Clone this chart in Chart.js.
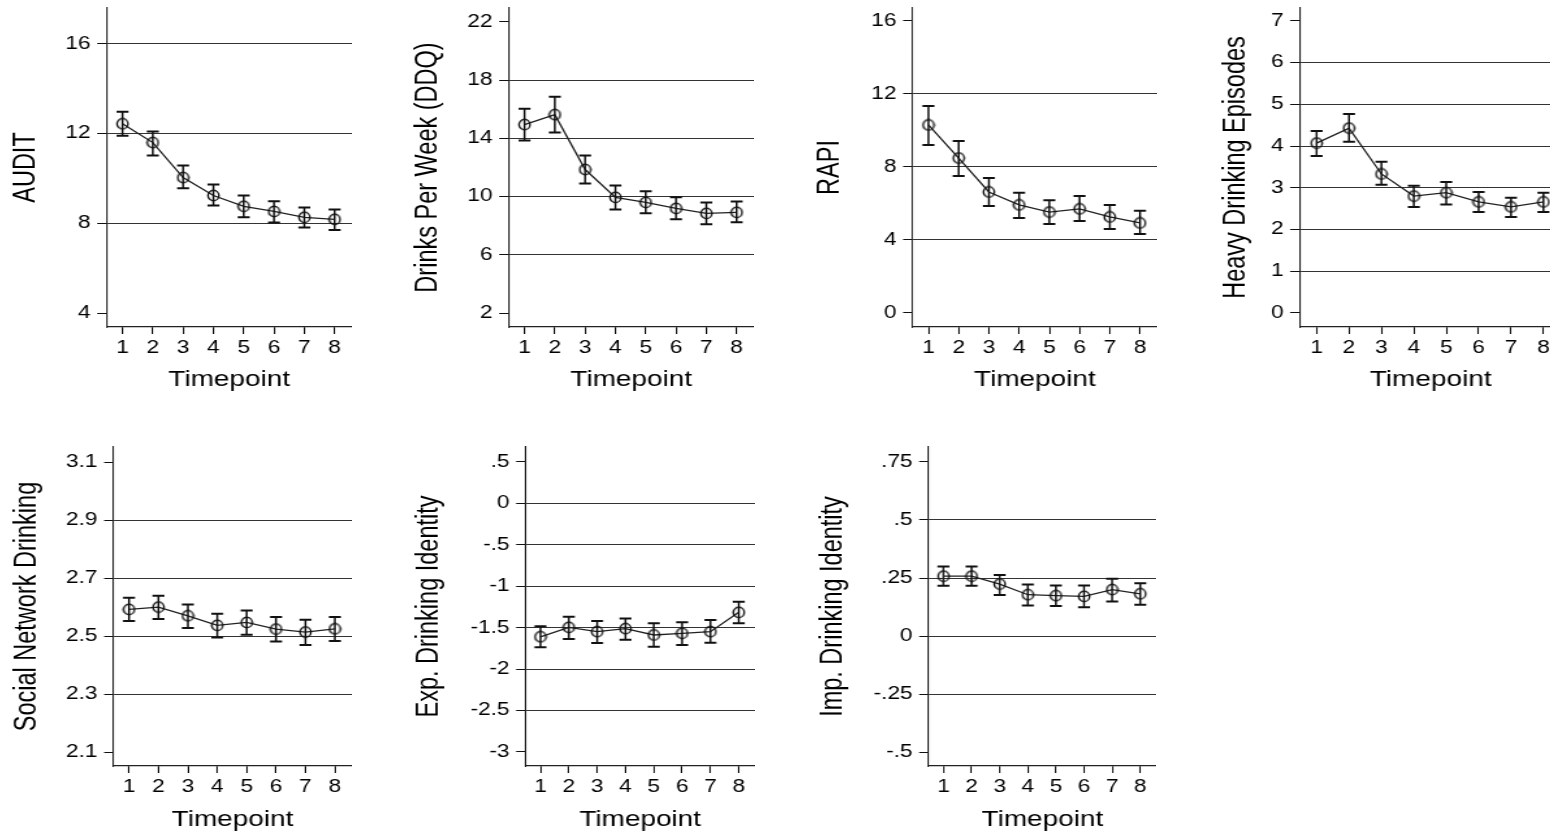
<!DOCTYPE html>
<html><head><meta charset="utf-8">
<script src="https://cdn.jsdelivr.net/npm/chart.js@4"></script>
<style>
html,body{margin:0;padding:0;background:#fff;overflow:hidden;width:1550px;height:834px;}
.panel{position:absolute;transform-origin:0 0;}
.panel canvas{display:block;}
</style></head><body>
<script>
// ---------------- data ----------------
const timepoints = [1, 2, 3, 4, 5, 6, 7, 8];

const auditMean = [12.44, 11.60, 10.04, 9.24, 8.76, 8.53, 8.27, 8.18];
const auditLo   = [11.91, 11.02, 9.56, 8.80, 8.27, 8.04, 7.82, 7.70];
const auditHi   = [12.98, 12.09, 10.58, 9.73, 9.24, 8.98, 8.71, 8.62];
const auditTicks = [4, 8, 12, 16];
const auditTickLabels = ['4', '8', '12', '16'];
const auditGrid = [8, 12, 16];

const ddqMean = [14.95, 15.63, 11.86, 9.95, 9.60, 9.19, 8.85, 8.92];
const ddqLo   = [13.85, 14.40, 10.90, 9.12, 8.85, 8.44, 8.10, 8.23];
const ddqHi   = [16.04, 16.86, 12.82, 10.77, 10.36, 9.95, 9.60, 9.67];
const ddqTicks = [2, 6, 10, 14, 18, 22];
const ddqTickLabels = ['2', '6', '10', '14', '18', '22'];
const ddqGrid = [6, 10, 14, 18];

const rapiMean = [10.30, 8.49, 6.63, 5.92, 5.53, 5.70, 5.26, 4.93];
const rapiLo   = [9.20, 7.50, 5.86, 5.20, 4.88, 5.04, 4.60, 4.33];
const rapiHi   = [11.34, 9.42, 7.40, 6.58, 6.17, 6.41, 5.92, 5.60];
const rapiTicks = [0, 4, 8, 12, 16];
const rapiTickLabels = ['0', '4', '8', '12', '16'];
const rapiGrid = [4, 8, 12];

const heavyMean = [4.07, 4.43, 3.33, 2.80, 2.88, 2.66, 2.54, 2.66];
const heavyLo   = [3.76, 4.10, 3.07, 2.54, 2.60, 2.42, 2.30, 2.42];
const heavyHi   = [4.36, 4.77, 3.62, 3.05, 3.14, 2.90, 2.76, 2.88];
const heavyTicks = [0, 1, 2, 3, 4, 5, 6, 7];
const heavyTickLabels = ['0', '1', '2', '3', '4', '5', '6', '7'];
const heavyGrid = [1, 2, 3, 4, 5, 6];

const socialMean = [2.592, 2.600, 2.570, 2.537, 2.547, 2.524, 2.514, 2.525];
const socialLo   = [2.552, 2.559, 2.528, 2.495, 2.505, 2.481, 2.469, 2.483];
const socialHi   = [2.632, 2.639, 2.609, 2.577, 2.588, 2.566, 2.556, 2.566];
const socialTicks = [2.1, 2.3, 2.5, 2.7, 2.9, 3.1];
const socialTickLabels = ['2.1', '2.3', '2.5', '2.7', '2.9', '3.1'];
const socialGrid = [2.3, 2.5, 2.7, 2.9];

const expMean = [-1.610, -1.496, -1.548, -1.512, -1.588, -1.568, -1.548, -1.315];
const expLo   = [-1.737, -1.636, -1.685, -1.645, -1.729, -1.709, -1.681, -1.448];
const expHi   = [-1.484, -1.367, -1.420, -1.388, -1.448, -1.436, -1.408, -1.187];
const expTicks = [-3, -2.5, -2, -1.5, -1, -0.5, 0, 0.5];
const expTickLabels = ['-3', '-2.5', '-2', '-1.5', '-1', '-.5', '0', '.5'];
const expGrid = [-2.5, -2, -1.5, -1, -0.5, 0];

const impMean = [0.258, 0.258, 0.224, 0.178, 0.174, 0.171, 0.200, 0.182];
const impLo   = [0.217, 0.217, 0.177, 0.132, 0.129, 0.124, 0.149, 0.135];
const impHi   = [0.300, 0.300, 0.263, 0.222, 0.218, 0.218, 0.247, 0.227];
const impTicks = [-0.5, -0.25, 0, 0.25, 0.5, 0.75];
const impTickLabels = ['-.5', '-.25', '0', '.25', '.5', '.75'];
const impGrid = [-0.25, 0, 0.25, 0.5];

const xTitle = 'Timepoint';

// ---------------- panels ----------------
const panels = [
  {title: 'AUDIT', mean: auditMean, lo: auditLo, hi: auditHi, ticks: auditTicks, labels: auditTickLabels, grid: auditGrid, yMin: 3.38, yMax: 17.6},
  {title: 'Drinks Per Week (DDQ)', mean: ddqMean, lo: ddqLo, hi: ddqHi, ticks: ddqTicks, labels: ddqTickLabels, grid: ddqGrid, yMin: 1.04, yMax: 22.96},
  {title: 'RAPI', mean: rapiMean, lo: rapiLo, hi: rapiHi, ticks: rapiTicks, labels: rapiTickLabels, grid: rapiGrid, yMin: -0.77, yMax: 16.71},
  {title: 'Heavy Drinking Episodes', mean: heavyMean, lo: heavyLo, hi: heavyHi, ticks: heavyTicks, labels: heavyTickLabels, grid: heavyGrid, yMin: -0.34, yMax: 7.31},
  {title: 'Social Network Drinking', mean: socialMean, lo: socialLo, hi: socialHi, ticks: socialTicks, labels: socialTickLabels, grid: socialGrid, yMin: 2.052, yMax: 3.152},
  {title: 'Exp. Drinking Identity', mean: expMean, lo: expLo, hi: expHi, ticks: expTicks, labels: expTickLabels, grid: expGrid, yMin: -3.169, yMax: 0.68},
  {title: 'Imp. Drinking Identity', mean: impMean, lo: impLo, hi: impHi, ticks: impTicks, labels: impTickLabels, grid: impGrid, yMin: -0.56, yMax: 0.8145}
];

// layout (screen px for left/top, internal px for the rest); canvases are stretched horizontally by S
const S = 1.3;
const layout = [
  {left: 9.6,    top: 0,   w: 263, h: 400, yw: 74.2, xh: 73, padTop: 8, titlePad: 6.9, tickPad: 4.2},
  {left: 411.6,  top: 0,   w: 263, h: 400, yw: 74.2, xh: 73, padTop: 8, titlePad: 6.9, tickPad: 4.2},
  {left: 813.6,  top: 0,   w: 264, h: 400, yw: 75.7, xh: 73, padTop: 8, titlePad: 6.9, tickPad: 4.2},
  {left: 1219.6, top: 0,   w: 263, h: 400, yw: 61.1, xh: 73, padTop: 8, titlePad: 6.9, tickPad: 4.2},
  {left: 10.6,   top: 440, w: 262, h: 394, yw: 78.8, xh: 68, padTop: 7, titlePad: 1.4, tickPad: 4.2},
  {left: 412.6,  top: 440, w: 263, h: 394, yw: 86.5, xh: 68, padTop: 7, titlePad: 1.4, tickPad: 4.2},
  {left: 816.5,  top: 440, w: 261, h: 394, yw: 85.8, xh: 68, padTop: 7, titlePad: 1.4, tickPad: 4.2}
];
const xMin = 0.47, xMax = 8.57;

Chart.defaults.font.family = "'Liberation Sans', Arial, Helvetica, sans-serif";
Chart.defaults.color = '#000';

function makeMarker() {
  const c = document.createElement('canvas');
  c.width = 11; c.height = 13;
  const g = c.getContext('2d');
  g.strokeStyle = '#111';
  g.lineWidth = 1.4;
  g.beginPath();
  g.ellipse(5.5, 6.5, 4.2, 5.2, 0, 0, Math.PI * 2);
  g.stroke();
  return c;
}
const marker = makeMarker();

const errorBars = {
  id: 'errorBars',
  afterDatasetsDraw(chart, args, opts) {
    const meta = chart.getDatasetMeta(0);
    const ys = chart.scales.y;
    const ctx = chart.ctx;
    ctx.save();
    ctx.strokeStyle = '#111';
    meta.data.forEach((pt, i) => {
      const x = pt.x;
      const y1 = ys.getPixelForValue(opts.lo[i]);
      const y2 = ys.getPixelForValue(opts.hi[i]);
      ctx.lineWidth = 1.5;
      ctx.beginPath(); ctx.moveTo(x, y1); ctx.lineTo(x, y2); ctx.stroke();
      ctx.lineWidth = 2;
      ctx.beginPath();
      ctx.moveTo(x - 4.6, y1); ctx.lineTo(x + 4.6, y1);
      ctx.moveTo(x - 4.6, y2); ctx.lineTo(x + 4.6, y2);
      ctx.stroke();
    });
    ctx.restore();
  }
};

panels.forEach((p, k) => {
  const L = layout[k];
  const div = document.createElement('div');
  div.className = 'panel';
  div.style.left = L.left + 'px';
  div.style.top = L.top + 'px';
  div.style.transform = 'scaleX(' + S + ')';
  const cv = document.createElement('canvas');
  cv.width = L.w; cv.height = L.h;
  div.appendChild(cv);
  document.body.appendChild(div);

  new Chart(cv, {
    type: 'line',
    data: {
      datasets: [{
        data: timepoints.map((t, i) => ({x: t, y: p.mean[i]})),
        borderColor: '#222',
        borderWidth: 1.3,
        pointStyle: marker,
        pointRadius: 5,
        fill: false,
        tension: 0
      }]
    },
    plugins: [errorBars],
    options: {
      responsive: false,
      animation: false,
      devicePixelRatio: 1,
      events: [],
      layout: {autoPadding: false, padding: {top: L.padTop, left: 0, right: 0, bottom: 0}},
      plugins: {
        legend: {display: false},
        tooltip: {enabled: false},
        errorBars: {lo: p.lo, hi: p.hi}
      },
      scales: {
        x: {
          type: 'linear',
          min: xMin, max: xMax,
          afterBuildTicks: s => { s.ticks = timepoints.map(v => ({value: v})); },
          afterFit: s => { s.height = L.xh; s.paddingLeft = 0; s.paddingRight = 0; },
          ticks: {font: {size: 17.5, lineHeight: '20.4px'}, padding: L.tickPad, color: '#000', callback: v => String(v), maxRotation: 0, autoSkip: false},
          grid: {drawOnChartArea: false, drawTicks: true, tickLength: 7, tickColor: '#111', tickWidth: 1.1},
          border: {display: true, color: '#222', width: 1.2},
          title: {display: true, text: xTitle, font: {size: 21.5, lineHeight: '25.2px'}, color: '#000', padding: {top: 0, bottom: L.titlePad}}
        },
        y: {
          type: 'linear',
          min: p.yMin, max: p.yMax,
          afterBuildTicks: s => { s.ticks = p.ticks.map(v => ({value: v})); },
          afterFit: s => { s.width = L.yw; s.paddingTop = 0; s.paddingBottom = 0; },
          ticks: {font: {size: 17.5, lineHeight: 1.0}, padding: 5, color: '#000', callback: (v, i) => p.labels[i], autoSkip: false},
          grid: {
            drawOnChartArea: true, drawTicks: true, tickLength: 7.2,
            color: c => (c.tick && p.grid.includes(c.tick.value)) ? '#333' : 'rgba(0,0,0,0)',
            tickColor: '#111', lineWidth: 1, tickWidth: 1
          },
          border: {display: true, color: '#222', width: 1.1},
          title: {display: true, text: p.title, font: {size: 23.5, lineHeight: '25.2px'}, color: '#000', padding: {top: 0, bottom: 0}}
        }
      }
    }
  });
});
</script>
</body></html>
